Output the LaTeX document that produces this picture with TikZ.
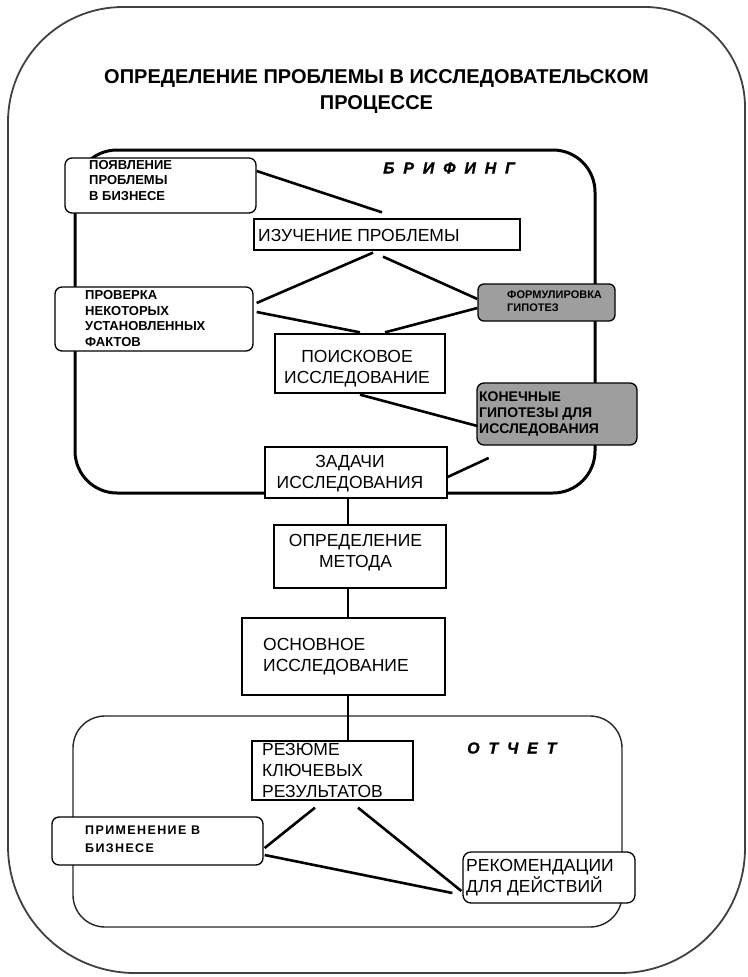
\documentclass[tikz,border=0pt]{standalone}
\usepackage{fontspec}
\setmainfont{Liberation Sans}
\newfontfamily\headfont[LetterSpace=55, FakeBold=1.2]{Liberation Sans Bold Italic}
\newfontfamily\lightspaced[LetterSpace=11]{Liberation Sans}
\usetikzlibrary{calc}
\tikzset{
  frameline/.style={draw=black!75, line width=1.8pt},
  briefline/.style={draw=black, line width=3pt, rounded corners=42pt},
  reportline/.style={draw=black!85, line width=1.4pt, rounded corners=32pt},
  conn/.style={draw=black, line width=2.6pt},
  sbox/.style={draw=black, line width=1.3pt, fill=white, inner sep=0pt},
  rbox/.style={sbox, rounded corners=7pt},
  gbox/.style={rbox, fill=black!38},
  maintxt/.style={inner sep=0pt, align=left, font=\fontsize{17.5}{21}\selectfont},
  maintxtc/.style={inner sep=0pt, align=center, font=\fontsize{17.5}{21}\selectfont},
  smalltxt/.style={inner sep=0pt, align=left, font=\fontsize{13}{15.5}\selectfont\bfseries},
  headtxt/.style={inner sep=0pt, align=left, font=\fontsize{16}{18}\headfont},
}
\begin{document}
\begin{tikzpicture}[x=1pt,y=-1pt]
\useasboundingbox (0,0) rectangle (747,977);

% outer frame
\draw[frameline] (8,122) .. controls (8,58.5) and (59.5,7) .. (123,7)
  -- (645,7) .. controls (700.2,7) and (745,51.8) .. (745,107)
  -- (745,848) .. controls (745,917) and (689,973) .. (620,973)
  -- (135,973) .. controls (64.9,973) and (8,916.1) .. (8,846) -- cycle;

% title
\node[inner sep=0pt, align=center, font=\fontsize{20}{26}\selectfont\bfseries] (title) at (376.5,92)
  {ОПРЕДЕЛЕНИЕ ПРОБЛЕМЫ В ИССЛЕДОВАТЕЛЬСКОМ\\ПРОЦЕССЕ};

% group frames
\draw[briefline] (75,150) rectangle (595,493);
\draw[reportline] (73,716) rectangle (622,927);
\node[headtxt, anchor=west] (brief) at (383,168) {БРИФИНГ};
\node[headtxt, anchor=west] (report) at (467,748) {ОТЧЕТ};

% boxes
\node[rbox, minimum width=191pt, minimum height=55pt] (poya) at (160.5,185.5) {};
\node[sbox, minimum width=266pt, minimum height=31pt] (izu) at (387,234.5) {};
\node[rbox, minimum width=198pt, minimum height=64pt] (prov) at (154,319) {};
\node[gbox, rounded corners=6pt, minimum width=137pt, minimum height=37pt] (form) at (546.5,302.5) {};
\node[sbox, minimum width=170pt, minimum height=59pt] (poisk) at (360,363.5) {};
\node[gbox, minimum width=160pt, minimum height=62pt] (kon) at (557,414) {};
\node[sbox, minimum width=182pt, minimum height=51pt] (zad) at (356,472.5) {};
\node[sbox, minimum width=172pt, minimum height=63pt] (opr) at (360,556.5) {};
\node[sbox, minimum width=203pt, minimum height=77pt] (osn) at (343.5,656.5) {};
\node[sbox, minimum width=161pt, minimum height=59pt] (rez) at (332.5,770.5) {};
\node[rbox, minimum width=211pt, minimum height=48pt] (prim) at (157.5,841) {};
\node[rbox, rounded corners=8pt, minimum width=172pt, minimum height=51pt] (rek) at (549,877.5) {};

% connectors
\coordinate (vx) at (348,0);
\coordinate (izuIn) at ($(izu.north)+(-5,-6)$);
\coordinate (konIn) at ($(zad.east)+(41,-14.5)$);
\coordinate (rekIn) at ($(rek.west)+(-10,15.5)$);
\draw[conn] ($(poya.east)+(0,-14.5)$) -- (izuIn);
\draw[conn] ($(izu.south)+(-14,2)$) -- ($(prov.east)+(3,-16)$);
\draw[conn] ($(izu.south)+(-4,6)$) -- ($(form.west)+(0,-3.5)$);
\draw[conn] ($(prov.east)+(3,-7)$) -- ($(poisk.north)+(0,-1)$);
\draw[conn] ($(form.west)+(0,5.5)$) -- ($(poisk.north)+(25,-1)$);
\draw[conn] ($(poisk.south)+(0,1)$) -- ($(kon.west)+(1,12)$);
\draw[conn] ($(zad.east)+(0,4.5)$) -- (konIn);
\draw[conn] (zad.south -| vx) -- (opr.north -| vx);
\draw[conn] (opr.south -| vx) -- (osn.north -| vx);
\draw[conn] (osn.south -| vx) -- (rez.north -| vx);
\draw[conn] ($(rez.south)+(-17.5,7)$) -- ($(prim.east)+(1,7)$);
\draw[conn] ($(rez.south)+(25.5,7)$) -- ($(rek.west)+(-1,13.5)$);
\draw[conn] ($(prim.east)+(1,14)$) -- (rekIn);

% texts
\node[smalltxt, anchor=west] (poyaT) at (89,180.5) {ПОЯВЛЕНИЕ\\ПРОБЛЕМЫ\\В БИЗНЕСЕ};
\node[smalltxt, anchor=west] (provT) at (85,318.5) {ПРОВЕРКА\\НЕКОТОРЫХ\\УСТАНОВЛЕННЫХ\\ФАКТОВ};
\node[inner sep=0pt, align=left, font=\fontsize{11}{13}\selectfont\bfseries, anchor=west] (formT) at (507,301.5) {ФОРМУЛИРОВКА\\ГИПОТЕЗ};
\node[inner sep=0pt, align=left, font=\fontsize{14}{16}\selectfont\bfseries, anchor=west] (konT) at (479,414) {КОНЕЧНЫЕ\\ГИПОТЕЗЫ ДЛЯ\\ИССЛЕДОВАНИЯ};
\node[maintxt, anchor=west] (izuT) at (258,235) {ИЗУЧЕНИЕ ПРОБЛЕМЫ};
\node[maintxtc] (poiskT) at (357,368.5) {ПОИСКОВОЕ\\ИССЛЕДОВАНИЕ};
\node[maintxtc] (zadT) at (350,474) {ЗАДАЧИ\\ИССЛЕДОВАНИЯ};
\node[maintxtc] (oprT) at (355.5,553) {ОПРЕДЕЛЕНИЕ\\МЕТОДА};
\node[maintxt, anchor=west] (osnT) at (263,657) {ОСНОВНОЕ\\ИССЛЕДОВАНИЕ};
\node[maintxt, anchor=west] (rezT) at (262,770) {РЕЗЮМЕ\\КЛЮЧЕВЫХ\\РЕЗУЛЬТАТОВ};
\node[inner sep=0pt, align=left, font=\fontsize{12.5}{18}\selectfont\lightspaced\bfseries, anchor=west] (primT) at (85,839) {ПРИМЕНЕНИЕ В\\БИЗНЕСЕ};
\node[maintxt, anchor=west] (rekT) at (466,878) {РЕКОМЕНДАЦИИ\\ДЛЯ ДЕЙСТВИЙ};
\end{tikzpicture}
\end{document}
